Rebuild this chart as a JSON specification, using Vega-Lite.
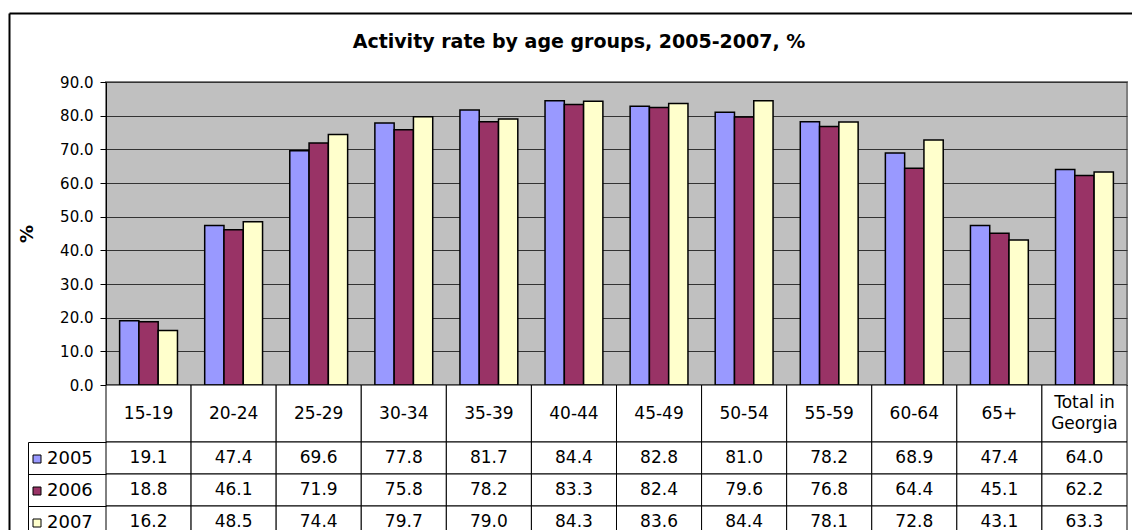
{
  "$schema": "https://vega.github.io/schema/vega-lite/v6.json",
  "padding": {"left": 8, "top": 12, "right": 0, "bottom": 0},
  "background": "white",
  "config": {
    "font": "DejaVu Sans",
    "view": {"stroke": null}
  },
  "title": {"text": "Activity rate by age groups, 2005-2007, %", "font": "DejaVu Sans", "fontSize": 19, "fontWeight": "bold", "anchor": "middle", "frame": "bounds", "baseline": "alphabetic", "offset": -55, "dx": -40, "color": "black"},
  "datasets": {
    "d": [
      {"g": "15-19", "year": "2005", "v": 19.1}, {"g": "15-19", "year": "2006", "v": 18.8}, {"g": "15-19", "year": "2007", "v": 16.2},
      {"g": "20-24", "year": "2005", "v": 47.4}, {"g": "20-24", "year": "2006", "v": 46.1}, {"g": "20-24", "year": "2007", "v": 48.5},
      {"g": "25-29", "year": "2005", "v": 69.6}, {"g": "25-29", "year": "2006", "v": 71.9}, {"g": "25-29", "year": "2007", "v": 74.4},
      {"g": "30-34", "year": "2005", "v": 77.8}, {"g": "30-34", "year": "2006", "v": 75.8}, {"g": "30-34", "year": "2007", "v": 79.7},
      {"g": "35-39", "year": "2005", "v": 81.7}, {"g": "35-39", "year": "2006", "v": 78.2}, {"g": "35-39", "year": "2007", "v": 79.0},
      {"g": "40-44", "year": "2005", "v": 84.4}, {"g": "40-44", "year": "2006", "v": 83.3}, {"g": "40-44", "year": "2007", "v": 84.3},
      {"g": "45-49", "year": "2005", "v": 82.8}, {"g": "45-49", "year": "2006", "v": 82.4}, {"g": "45-49", "year": "2007", "v": 83.6},
      {"g": "50-54", "year": "2005", "v": 81.0}, {"g": "50-54", "year": "2006", "v": 79.6}, {"g": "50-54", "year": "2007", "v": 84.4},
      {"g": "55-59", "year": "2005", "v": 78.2}, {"g": "55-59", "year": "2006", "v": 76.8}, {"g": "55-59", "year": "2007", "v": 78.1},
      {"g": "60-64", "year": "2005", "v": 68.9}, {"g": "60-64", "year": "2006", "v": 64.4}, {"g": "60-64", "year": "2007", "v": 72.8},
      {"g": "65+", "year": "2005", "v": 47.4}, {"g": "65+", "year": "2006", "v": 45.1}, {"g": "65+", "year": "2007", "v": 43.1},
      {"g": "Total in\nGeorgia", "year": "2005", "v": 64.0}, {"g": "Total in\nGeorgia", "year": "2006", "v": 62.2}, {"g": "Total in\nGeorgia", "year": "2007", "v": 63.3}
    ]
  },
  "bounds": "flush",
  "spacing": 0,
  "vconcat": [
    {
      "width": 1021,
      "height": 303,
      "view": {"fill": "#C0C0C0", "stroke": "#808080", "strokeWidth": 2},
      "resolve": {"scale": {"x": "independent", "y": "independent"}},
      "layer": [
        {
          "data": {"name": "d"},
          "mark": {"type": "bar", "stroke": "black", "strokeWidth": 1.5},
          "encoding": {
            "x": {"field": "g", "type": "nominal", "sort": null, "scale": {"paddingInner": 0.32, "paddingOuter": 0.16}, "axis": null},
            "xOffset": {"field": "year", "type": "nominal", "scale": {"paddingInner": 0, "paddingOuter": 0}},
            "y": {"field": "v", "type": "quantitative", "scale": {"domain": [0, 90]},
              "axis": {"orient": "left", "values": [0, 10, 20, 30, 40, 50, 60, 70, 80, 90], "format": ".1f", "labelFontSize": 15, "labelColor": "black", "tickColor": "black", "tickSize": 6, "labelPadding": 7, "domainColor": "black", "gridColor": "#333333", "gridWidth": 1, "title": "%", "titleFontSize": 18, "titleFontWeight": "bold", "titleColor": "black", "titlePadding": 23}},
            "color": {"field": "year", "type": "nominal", "scale": {"range": ["#9999FF", "#993366", "#FFFFCC"]},
              "legend": {"orient": "none", "legendX": -78, "legendY": 368, "title": null, "symbolType": "square", "symbolSize": 64, "symbolStrokeColor": "black", "symbolStrokeWidth": 1, "symbolOpacity": 1, "labelFontSize": 18, "labelColor": "black", "labelOffset": 1, "rowPadding": 14, "padding": 0, "direction": "vertical"}}
          }
        },
        {
          "data": {"values": []},
          "mark": "point",
          "encoding": {
            "x": {"field": "fx", "type": "quantitative", "scale": {"domain": [0, 1], "range": [-97, 1026]}, "axis": {"orient": "top", "offset": 69, "domainColor": "black", "domainWidth": 2, "ticks": false, "labels": false, "grid": false, "title": null}},
            "y": {"field": "fy", "type": "quantitative", "scale": {"domain": [0, 1], "range": [448, -69]}, "axis": {"orient": "left", "offset": 97, "domainColor": "black", "domainWidth": 2, "ticks": false, "labels": false, "grid": false, "title": null}}
          }
        }
      ]
    },
    {
      "width": 1021,
      "height": 57,
      "data": {"name": "d"},
      "transform": [{"filter": "datum.year == '2005'"}],
      "encoding": {
        "x": {"field": "g", "type": "nominal", "sort": null, "scale": {"paddingInner": 0, "paddingOuter": 0}, "axis": null}
      },
      "layer": [
        {"mark": {"type": "rect", "fill": "white", "stroke": "black", "strokeWidth": 1}},
        {"transform": [{"filter": "indexof(datum.g, '\\n') < 0"}],
         "mark": {"type": "text", "fontSize": 17, "color": "black"}, "encoding": {"text": {"field": "g"}}},
        {"transform": [{"filter": "indexof(datum.g, '\\n') >= 0"}],
         "mark": {"type": "text", "fontSize": 17, "lineBreak": "\n", "lineHeight": 21, "dy": -10.5, "color": "black"}, "encoding": {"text": {"field": "g"}}}
      ]
    },
    {
      "width": 1021,
      "height": 96,
      "data": {"name": "d"},
      "encoding": {
        "x": {"field": "g", "type": "nominal", "sort": null, "scale": {"paddingInner": 0, "paddingOuter": 0}, "axis": null},
        "y": {"field": "year", "type": "nominal", "scale": {"paddingInner": 0, "paddingOuter": 0},
          "axis": {"orient": "left", "offset": 78, "tickSize": -78, "bandPosition": 0, "labels": false, "title": null, "domainColor": "black", "tickColor": "black", "grid": false}}
      },
      "layer": [
        {"mark": {"type": "rect", "fill": "white", "stroke": "black", "strokeWidth": 1}},
        {"mark": {"type": "text", "fontSize": 17, "color": "black"}, "encoding": {"text": {"field": "v", "type": "quantitative", "format": ".1f"}}}
      ]
    }
  ]
}
